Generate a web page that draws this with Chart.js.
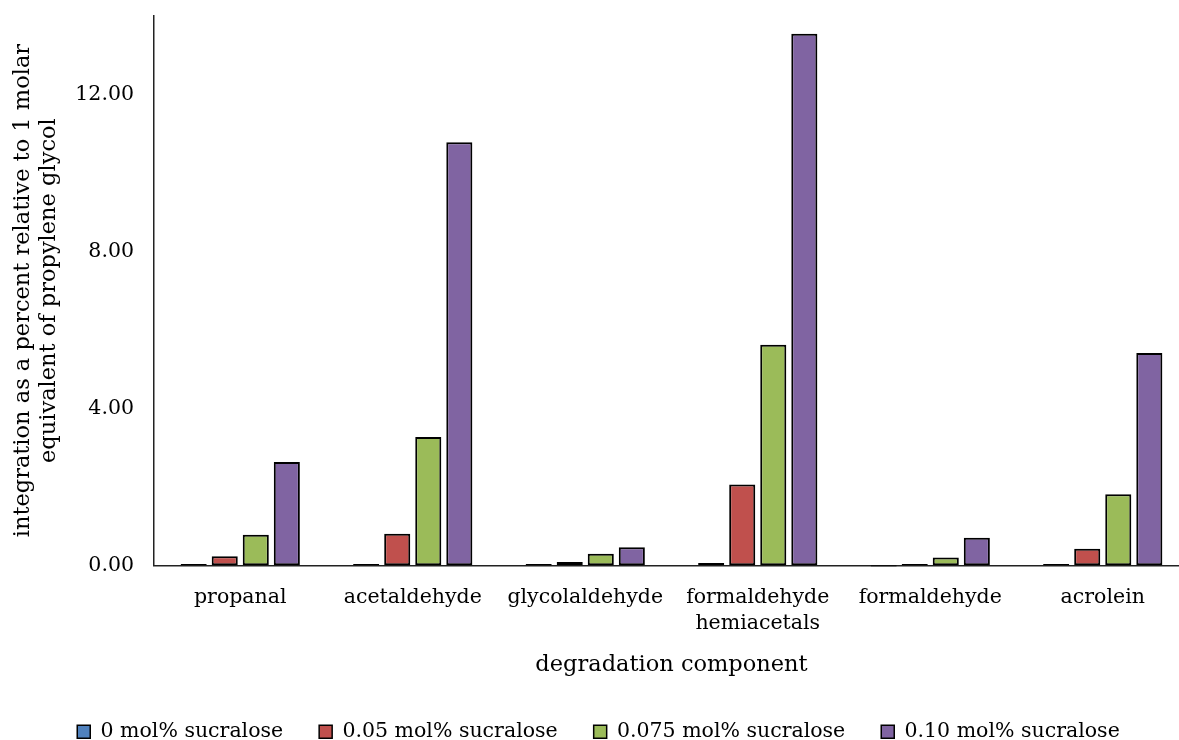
<!DOCTYPE html>
<html>
<head>
<meta charset="utf-8">
<script src="https://cdn.jsdelivr.net/npm/chart.js@4"></script>
<style>
  html, body { margin: 0; padding: 0; background: #fff; overflow: hidden; }
  #wrap { width: 1198px; height: 740px; }
</style>
</head>
<body>
<div id="wrap"><canvas id="c" width="1198" height="740"></canvas></div>
<script>
// Degradation components (x categories)
const categories = [
  'propanal',
  'acetaldehyde',
  'glycolaldehyde',
  ['formaldehyde', 'hemiacetals'],
  'formaldehyde',
  'acrolein'
];

// Series names
const seriesNames = [
  '0 mol% sucralose',
  '0.05 mol% sucralose',
  '0.075 mol% sucralose',
  '0.10 mol% sucralose'
];

// Integration (% relative to 1 molar equivalent of propylene glycol)
const sucralose0   = [0.03, 0.03, 0.03, 0.06, -0.03, 0.03];
const sucralose005 = [0.23, 0.80, 0.08, 2.06, 0.03, 0.42];
const sucralose0075 = [0.78, 3.27, 0.29, 5.62, 0.20, 1.81];
const sucralose010 = [2.63, 10.78, 0.46, 13.55, 0.70, 5.41];

// y-axis ticks
const yTicks = [0, 4, 8, 12];

const colors = ['#4F81BD', '#C0504D', '#9BBB59', '#8064A2'];
const seriesValues = [sucralose0, sucralose005, sucralose0075, sucralose010];

const FONT = 'DejaVu Serif';

const datasets = seriesNames.map((name, i) => ({
  label: name,
  data: seriesValues[i],
  backgroundColor: colors[i],
  borderColor: '#000',
  borderWidth: 2,
  borderSkipped: false,
  categoryPercentage: 0.72,
  barPercentage: 0.84,
  clip: false
}));

new Chart(document.getElementById('c'), {
  type: 'bar',
  data: { labels: categories, datasets },
  options: {
    responsive: false,
    animation: false,
    devicePixelRatio: 1,
    layout: { padding: { left: 8, right: 9, top: 16, bottom: -12 } },
    plugins: {
      tooltip: { enabled: false },
      legend: {
        position: 'bottom',
        labels: {
          color: '#000',
          font: { family: FONT, size: 20.5 },
          boxWidth: 13,
          boxHeight: 13,
          padding: 36,
          generateLabels: (chart) => chart.data.datasets.map((d, i) => ({
            text: d.label,
            fillStyle: d.backgroundColor,
            strokeStyle: '#000',
            lineWidth: 1.5,
            datasetIndex: i
          }))
        }
      }
    },
    scales: {
      x: {
        grid: { display: false, drawTicks: false },
        border: { display: true, color: '#222', width: 1.5 },
        ticks: {
          color: '#000',
          font: { family: FONT, size: 20.5, lineHeight: 1.25 },
          padding: 20,
          maxRotation: 0,
          autoSkip: false
        },
        title: {
          display: true,
          text: 'degradation component',
          color: '#000',
          font: { family: FONT, size: 22.5 },
          padding: { top: -5, bottom: 7 }
        }
      },
      y: {
        min: 0,
        max: 14,
        grid: { display: false, drawTicks: false },
        border: { display: true, color: '#222', width: 1.5 },
        afterBuildTicks: (scale) => { scale.ticks = yTicks.map(v => ({ value: v })); },
        afterFit: (scale) => {
          scale.width = 146;
          scale.paddingTop = 0;
          scale.paddingBottom = 0;
        },
        ticks: {
          color: '#000',
          font: { family: FONT, size: 20.5 },
          padding: 20,
          callback: (v) => Number(v).toFixed(2)
        },
        title: {
          display: true,
          text: ['integration as a percent relative to 1 molar', 'equivalent of propylene glycol'],
          color: '#000',
          font: { family: FONT, size: 22.5, lineHeight: 1.12 },
          padding: { top: 3, bottom: 4 }
        }
      }
    }
  }
});
</script>
</body>
</html>
